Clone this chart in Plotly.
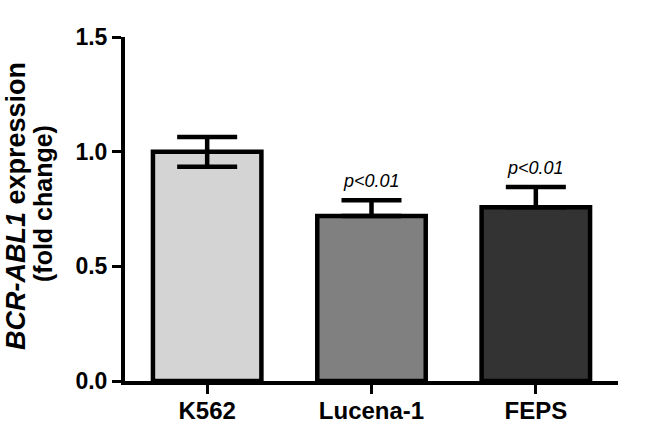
import plotly.graph_objects as go

categories = ["K562", "Lucena-1", "FEPS"]
values = [1.0, 0.72, 0.758]
err_plus = [0.064, 0.068, 0.088]
err_minus = [0.066, 0.0, 0.0]
bar_colors = ["#d4d4d4", "#808080", "#333333"]
p_labels = ["", "p<0.01", "p<0.01"]
y_ticks = [0.0, 0.5, 1.0, 1.5]
y_ticklabels = ["0.0", "0.5", "1.0", "1.5"]
title_line1 = "<b><i>BCR-ABL1</i> expression</b>"
title_line2 = "<b>(fold change)</b>"

FONT = "Liberation Sans, Arial, sans-serif"
W, H = 646, 436
L, R, T, B = 125, 28, 37, 55
PW, PH = W - L - R, H - T - B

fig = go.Figure()
fig.add_trace(go.Bar(
    x=list(range(len(categories))),
    y=values,
    width=0.66,
    marker=dict(color=bar_colors, line=dict(color="black", width=4.5)),
    error_y=dict(type="data", symmetric=False, array=err_plus, arrayminus=err_minus,
                 color="black", thickness=4.5, width=30),
    showlegend=False,
    hoverinfo="skip",
))

for i, lab in enumerate(p_labels):
    if lab:
        fig.add_annotation(
            x=i, y=values[i] + err_plus[i], xref="x", yref="y",
            text="<i>" + lab + "</i>", showarrow=False,
            yanchor="bottom", yshift=7,
            font=dict(family=FONT, size=18, color="black"),
        )

for txt, px, py, fs in [(title_line1, 16, 206, 27), (title_line2, 43, 204, 25)]:
    fig.add_annotation(
        xref="paper", yref="paper", x=(px - L) / PW, y=(H - B - py) / PH,
        text=txt, textangle=-90, showarrow=False,
        xanchor="center", yanchor="middle",
        font=dict(family=FONT, size=fs, color="black"),
    )

fig.update_layout(
    width=W, height=H,
    margin=dict(l=L, r=R, t=T, b=B, autoexpand=False),
    plot_bgcolor="white", paper_bgcolor="white",
    xaxis=dict(
        range=[-0.5, 2.5], automargin=False,
        tickmode="array", tickvals=list(range(len(categories))), ticktext=categories,
        showline=True, linecolor="black", linewidth=4,
        ticks="outside", ticklen=9, tickwidth=3, tickcolor="black",
        ticklabelstandoff=-4,
        tickfont=dict(family=FONT, size=24, color="black", weight="bold"),
        showgrid=False, zeroline=False,
    ),
    yaxis=dict(
        range=[0, 1.5], automargin=False,
        tickmode="array", tickvals=y_ticks, ticktext=y_ticklabels,
        showline=True, linecolor="black", linewidth=4,
        ticks="outside", ticklen=9, tickwidth=3, tickcolor="black",
        tickfont=dict(family=FONT, size=23, color="black", weight="bold"),
        showgrid=False, zeroline=False,
    ),
)

fig.write_html("out.html", config={"displayModeBar": False},
               post_script="document.body.style.margin='0px';")
